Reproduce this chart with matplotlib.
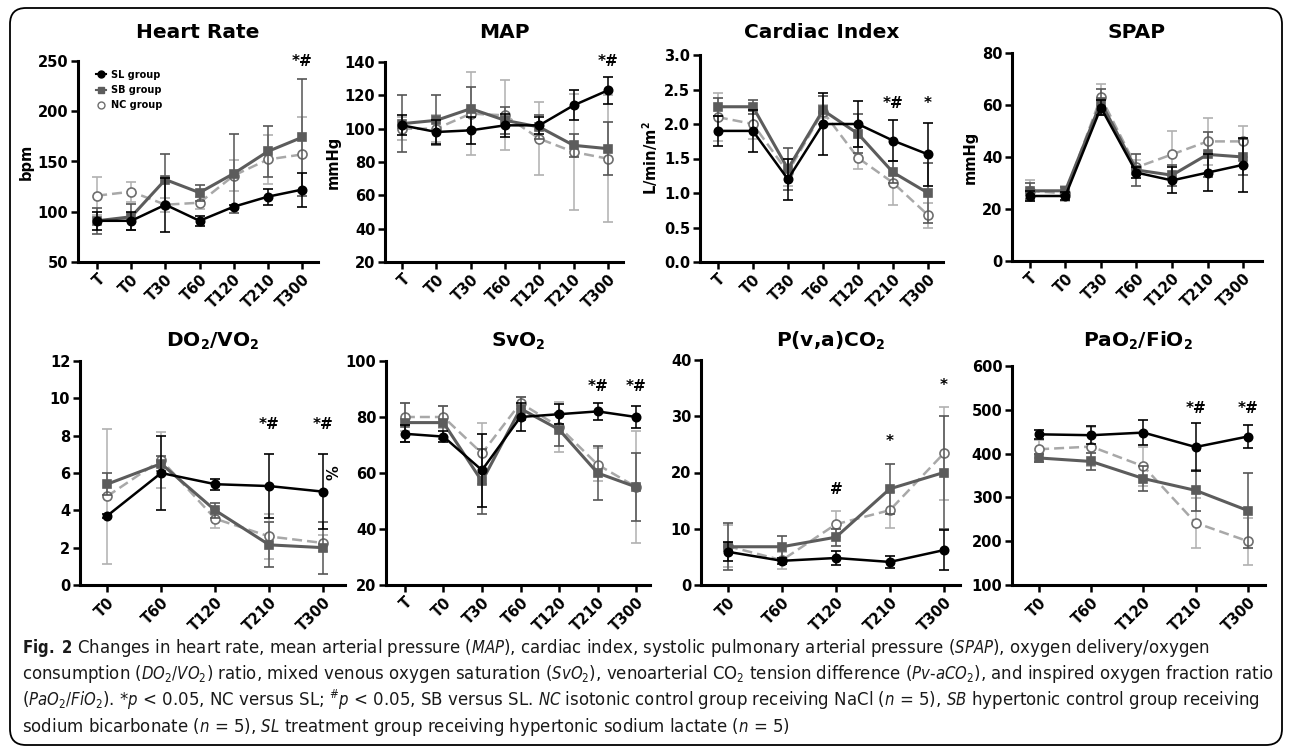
import matplotlib
matplotlib.use("Agg")
import matplotlib.pyplot as plt
from matplotlib import font_manager
from matplotlib.patches import FancyBboxPatch
from matplotlib.transforms import IdentityTransform
from matplotlib.lines import Line2D
from matplotlib.ticker import FormatStrFormatter

W, H = 1292, 751
fonts = font_manager.fontManager.ttflist
names = {f.name for f in fonts}
if 'Liberation Sans Narrow' in names:
    CAP_FAMILY, CAP_STRETCH = 'Liberation Sans Narrow', 'normal'
else:
    CAP_FAMILY, CAP_STRETCH = 'DejaVu Sans', 'condensed'
CHART_FONT = 'DejaVu Sans'

plt.rcParams['font.family'] = [CHART_FONT]
plt.rcParams['mathtext.fontset'] = 'custom'
plt.rcParams['mathtext.rm'] = CAP_FAMILY + ':stretch=' + CAP_STRETCH
plt.rcParams['mathtext.it'] = CAP_FAMILY + ':italic:stretch=' + CAP_STRETCH
plt.rcParams['mathtext.bf'] = CAP_FAMILY + ':bold:stretch=' + CAP_STRETCH

# ---------------- data ----------------
times7 = ['T', 'T0', 'T30', 'T60', 'T120', 'T210', 'T300']
times5 = ['T0', 'T60', 'T120', 'T210', 'T300']
groups = ['SL group', 'SB group', 'NC group']

hr_sl = [91, 91, 107, 91, 105, 115, 122]
hr_sl_sd = [9, 9, 27, 5, 2, 8, 17]
hr_sb = [91, 95, 132, 119, 138, 160, 174]
hr_sb_sd = [13, 13, 25, 8, 39, 25, 58]
hr_nc = [116, 120, 107, 109, 136, 152, 157]
hr_nc_sd = [19, 10, 7, 6, 15, 24, 37]

map_sl = [102, 98, 99, 102, 102, 114, 123]
map_sl_sd = [6, 7, 8, 7, 5, 9, 8]
map_sb = [103, 105, 112, 105, 101, 90, 88]
map_sb_sd = [17, 15, 13, 8, 7, 7, 16]
map_nc = [100, 100, 109, 108, 94, 86, 82]
map_nc_sd = [7, 8, 25, 21, 22, 35, 38]

ci_sl = [1.9, 1.9, 1.2, 2.0, 2.0, 1.76, 1.56]
ci_sl_sd = [0.22, 0.3, 0.3, 0.45, 0.33, 0.3, 0.46]
ci_sb = [2.25, 2.25, 1.35, 2.2, 1.86, 1.3, 1.0]
ci_sb_sd = [0.13, 0.1, 0.3, 0.2, 0.28, 0.16, 0.43]
ci_nc = [2.1, 2.0, 1.3, 2.18, 1.51, 1.15, 0.68]
ci_nc_sd = [0.35, 0.22, 0.2, 0.1, 0.16, 0.32, 0.18]

spap_sl = [25, 25, 59, 34, 31, 34, 37]
spap_sl_sd = [2, 1.5, 3, 2, 5, 7, 10.5]
spap_sb = [27, 27, 61, 35, 33, 41, 40]
spap_sb_sd = [3, 1.5, 5, 6, 4, 8.5, 7]
spap_nc = [27, 26, 63, 36, 41, 46, 46]
spap_nc_sd = [4, 3, 5, 3, 9, 9, 6]

do2_sl = [3.7, 6.0, 5.4, 5.3, 5.0]
do2_sl_sd = [0.1, 2.0, 0.3, 1.7, 2.0]
do2_sb = [5.4, 6.5, 4.0, 2.15, 2.0]
do2_sb_sd = [0.6, 0.4, 0.4, 1.2, 1.4]
do2_nc = [4.75, 6.7, 3.55, 2.6, 2.25]
do2_nc_sd = [3.6, 1.5, 0.5, 1.2, 0.45]

svo2_sl = [74, 73, 61, 80, 81, 82, 80]
svo2_sl_sd = [3, 2, 13, 5, 3.5, 3, 4]
svo2_sb = [78, 78, 57, 83, 75.5, 60, 55]
svo2_sb_sd = [7, 6, 11.5, 4, 6, 9.5, 12]
svo2_nc = [80, 80, 67, 85, 76.5, 63, 55]
svo2_nc_sd = [5, 4, 11, 2, 9, 6, 20]

pco2_sl = [5.9, 4.3, 4.8, 4.1, 6.2]
pco2_sl_sd = [1.7, 0.5, 1.2, 1.0, 3.6]
pco2_sb = [6.8, 6.8, 8.5, 17.1, 20.0]
pco2_sb_sd = [4.2, 2.0, 1.5, 4.5, 10.0]
pco2_nc = [6.9, 4.4, 10.8, 13.3, 23.4]
pco2_nc_sd = [3.7, 1.5, 2.3, 3.2, 8.2]

pf_sl = [444, 442, 448, 415, 439]
pf_sl_sd = [10, 20, 28, 54, 26]
pf_sb = [390, 382, 343, 316, 270]
pf_sb_sd = [10, 20, 28, 47, 86]
pf_nc = [410, 416, 371, 242, 200]
pf_nc_sd = [20, 45, 45, 57, 54]

caption_lines = [
    r"$\mathbf{Fig.\ 2}$ Changes in heart rate, mean arterial pressure ($\mathit{MAP}$), cardiac index, systolic pulmonary arterial pressure ($\mathit{SPAP}$), oxygen delivery/oxygen",
    r"consumption ($\mathit{DO_2/VO_2}$) ratio, mixed venous oxygen saturation ($\mathit{SvO_2}$), venoarterial CO$_2$ tension difference ($\mathit{Pv\text{-}aCO_2}$), and inspired oxygen fraction ratio",
    r"($\mathit{PaO_2/FiO_2}$). *$\mathit{p}$ < 0.05, NC versus SL; $^{\#}\mathit{p}$ < 0.05, SB versus SL. $\mathit{NC}$ isotonic control group receiving NaCl ($\mathit{n}$ = 5), $\mathit{SB}$ hypertonic control group receiving",
    r"sodium bicarbonate ($\mathit{n}$ = 5), $\mathit{SL}$ treatment group receiving hypertonic sodium lactate ($\mathit{n}$ = 5)",
]

# ---------------- styles ----------------
STY = {
    'SL': dict(color='black', marker='o', ms=6, ls='-', lw=1.8, mfc='black', mec='black', ecolor='black', z=6),
    'SB': dict(color='#5c5c5c', marker='s', ms=6, ls='-', lw=2.2, mfc='#5c5c5c', mec='#5c5c5c', ecolor='#555555', z=5),
    'NC': dict(color='#a8a8a8', marker='o', ms=6.5, ls=(0, (4, 2)), lw=1.8, mfc='white', mec='#6e6e6e', ecolor='#b0b0b0', z=4),
}

fig = plt.figure(figsize=(W / 100, H / 100), dpi=100)


def add_ax(l, r, t, b):
    return fig.add_axes([l / W, 1 - b / H, (r - l) / W, (b - t) / H])


def panel(ax, title, title_y, labels, data, ylim, yticks, ylabel, xpad, fmt, notes):
    n = len(labels)
    xs = list(range(n))
    for key, (vals, sd) in data:
        s = STY[key]
        ax.errorbar(xs, vals, yerr=sd, color=s['color'], ls=s['ls'], lw=s['lw'],
                    marker=s['marker'], ms=s['ms'], mfc=s['mfc'], mec=s['mec'], mew=1.2,
                    ecolor=s['ecolor'], elinewidth=1.1, capsize=3.5, capthick=1.1,
                    zorder=s['z'], clip_on=False)
    ax.set_xlim(-xpad[0], n - 1 + xpad[1])
    ax.set_ylim(*ylim)
    ax.set_yticks(yticks)
    ax.yaxis.set_major_formatter(FormatStrFormatter(fmt))
    ax.set_xticks(xs)
    ax.set_xticklabels(labels, rotation=45, ha='right', rotation_mode='anchor',
                       fontweight='bold', fontsize=10.5)
    for lab in ax.get_yticklabels():
        lab.set_fontweight('bold')
        lab.set_fontsize(10.5)
    for sp in ['top', 'right']:
        ax.spines[sp].set_visible(False)
    for sp in ['left', 'bottom']:
        ax.spines[sp].set_linewidth(2.2)
    ax.tick_params(direction='out', length=5, width=1.8, pad=2)
    pos = ax.get_position()
    fig.text((pos.x0 + pos.x1) / 2, 1 - title_y / H, title, ha='center', va='center',
             fontsize=14.5, fontweight='bold')
    if ylabel:
        ax.set_ylabel(ylabel, fontsize=10.5, fontweight='bold', labelpad=3)
    for xi, yv, txt in notes:
        ax.text(xi, yv, txt, ha='center', va='center', fontsize=11, fontweight='bold', clip_on=False)


T1, T2 = 33, 341

ax = add_ax(78, 318, 61, 262)
panel(ax, 'Heart Rate', T1, times7, [('NC', (hr_nc, hr_nc_sd)), ('SB', (hr_sb, hr_sb_sd)), ('SL', (hr_sl, hr_sl_sd))],
      (50, 250), [50, 100, 150, 200, 250], 'bpm', (0.56, 0.47), '%d', [(6, 250, '*#')])
handles = [Line2D([], [], color=STY[k]['color'], ls='-' if k != 'NC' else 'none', lw=1.5, marker=STY[k]['marker'],
                  ms=5, mfc=STY[k]['mfc'], mec=STY[k]['mec']) for k in ['SL', 'SB', 'NC']]
ax.legend(handles, groups, loc='upper left', bbox_to_anchor=(0.04, 1.0), frameon=False,
          prop=dict(weight='bold', size=7), handlelength=1.0, handletextpad=0.5, labelspacing=0.55)

ax = add_ax(385, 623, 62, 262)
panel(ax, 'MAP', T1, times7, [('NC', (map_nc, map_nc_sd)), ('SB', (map_sb, map_sb_sd)), ('SL', (map_sl, map_sl_sd))],
      (20, 140), [20, 40, 60, 80, 100, 120, 140], 'mmHg', (0.5, 0.44), '%d', [(6, 140, '*#')])

ax = add_ax(700, 943, 55, 262)
panel(ax, 'Cardiac Index', T1, times7, [('NC', (ci_nc, ci_nc_sd)), ('SB', (ci_sb, ci_sb_sd)), ('SL', (ci_sl, ci_sl_sd))],
      (0, 3.0), [0, 0.5, 1.0, 1.5, 2.0, 2.5, 3.0], r'L/min/m$^\mathbf{2}$', (0.51, 0.43), '%.1f',
      [(5, 2.3, '*#'), (6, 2.3, '*')])

ax = add_ax(1012, 1262, 53, 261)
panel(ax, 'SPAP', T1, times7, [('NC', (spap_nc, spap_nc_sd)), ('SB', (spap_sb, spap_sb_sd)), ('SL', (spap_sl, spap_sl_sd))],
      (0, 80), [0, 20, 40, 60, 80], 'mmHg', (0.5, 0.53), '%d', [])

ax = add_ax(80, 345, 361, 585)
panel(ax, r'DO$_\mathbf{2}$/VO$_\mathbf{2}$', T2, times5, [('NC', (do2_nc, do2_nc_sd)), ('SB', (do2_sb, do2_sb_sd)), ('SL', (do2_sl, do2_sl_sd))],
      (0, 12), [0, 2, 4, 6, 8, 10, 12], None, (0.5, 0.4), '%d', [(3, 8.6, '*#'), (4, 8.6, '*#')])

ax = add_ax(386, 650, 361, 585)
panel(ax, r'SvO$_\mathbf{2}$', T2, times7, [('NC', (svo2_nc, svo2_nc_sd)), ('SB', (svo2_sb, svo2_sb_sd)), ('SL', (svo2_sl, svo2_sl_sd))],
      (20, 100), [20, 40, 60, 80, 100], '%', (0.49, 0.36), '%d', [(5, 91, '*#'), (6, 91, '*#')])

ax = add_ax(701, 960, 360, 585)
panel(ax, r'P(v,a)CO$_\mathbf{2}$', T2, times5, [('NC', (pco2_nc, pco2_nc_sd)), ('SB', (pco2_sb, pco2_sb_sd)), ('SL', (pco2_sl, pco2_sl_sd))],
      (0, 40), [0, 10, 20, 30, 40], None, (0.5, 0.3), '%d', [(2, 16.9, '#'), (3, 25.5, '*'), (4, 35.5, '*')])

ax = add_ax(1012, 1265, 366, 585)
panel(ax, r'PaO$_\mathbf{2}$/FiO$_\mathbf{2}$', T2, times5, [('NC', (pf_nc, pf_nc_sd)), ('SB', (pf_sb, pf_sb_sd)), ('SL', (pf_sl, pf_sl_sd))],
      (100, 600), [100, 200, 300, 400, 500, 600], None, (0.52, 0.33), '%d', [(3, 503, '*#'), (4, 503, '*#')])

# caption
cap_y = [648, 674, 700, 727]
texts = [fig.text(22 / W, 1 - y / H, s, fontsize=14, va='center', ha='left', color='#1a1a1a')
         for s, y in zip(caption_lines, cap_y)]
fig.canvas.draw()
r = fig.canvas.get_renderer()
wmax = max(t.get_window_extent(r).width for t in texts[:3])
scale = min(1.0, (1276 - 22) / wmax)
for t in texts:
    t.set_fontsize(14 * scale)

# rounded border
box = FancyBboxPatch((10, 6), 1272, 737, boxstyle='round,pad=0,rounding_size=16',
                     fill=False, lw=1.3, ec='black', transform=IdentityTransform())
fig.add_artist(box)

fig.savefig('out.png', dpi=100)
